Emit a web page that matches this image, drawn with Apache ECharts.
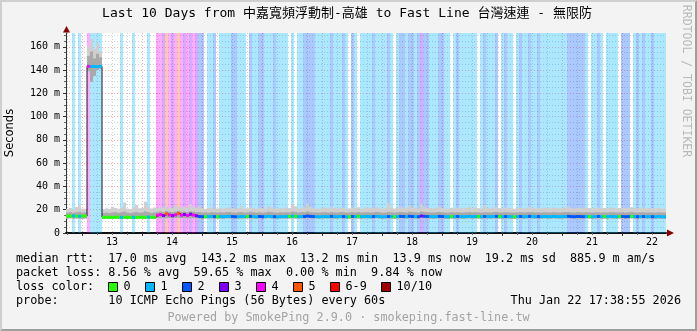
<!DOCTYPE html>
<html><head><meta charset="utf-8">
<script src="https://cdn.jsdelivr.net/npm/echarts@6/dist/echarts.min.js"></script>
<style>html,body{margin:0;padding:0;background:#f3f3f3}#c{width:697px;height:331px}</style>
</head><body><div id="c"></div>
<script>
// ---- time frame ----
const startTime = Date.UTC(2026, 0, 12, 17, 36);   // left edge of the plot
const bucketMinutes = 72;                            // one sample column = 72 min
const dayLabels = ['13','14','15','16','17','18','19','20','21','22'];
const yMax = 171.84;
const yMajorTicks = [0,20,40,60,80,100,120,140,160];
const yMinorTicks = [5,10,15,25,30,35,45,50,55,65,70,75,85,90,95,105,110,115,125,130,135,145,150,155,165,170];
const yTickLabels = ['0','20 m','40 m','60 m','80 m','100 m','120 m','140 m','160 m'];

// ---- loss legend ----
const lossLabels = ['0','1','2','3','4','5','6-9','10/10'];
const lossColors = ['#26ff00','#00b8ff','#0059ff','#7e00ff','#ff00ff','#ff5500','#ff0000','#a10000'];

// ---- packet loss level per column (index into lossLabels) ----
const loss = [
 0,0,1,0,1,0,0,4,1,1,
 1,1,0,0,0,0,0,0,1,0,
 0,0,1,0,0,0,0,1,0,0,
 4,4,3,5,4,3,4,5,4,3,
 4,3,4,3,2,2,0,1,1,2,
 0,1,1,1,1,2,2,1,1,1,
 0,2,1,1,2,2,1,1,1,2,
 1,1,1,1,0,1,0,1,1,2,
 2,2,2,1,1,1,1,1,2,1,
 1,1,2,1,0,2,1,0,1,1,
 1,1,2,1,1,1,1,2,1,0,
 1,2,2,1,2,2,1,2,3,2,
 2,1,1,1,2,2,1,1,0,1,
 2,1,1,1,1,1,1,0,1,2,
 1,1,1,2,0,1,2,1,1,0,
 1,2,1,1,2,1,1,2,1,1,
 1,1,1,1,1,1,1,2,2,2,
 2,2,2,1,0,1,1,2,1,0,
 1,1,1,1,0,2,2,2,0,1,
 2,1,2,1,1,2,1,1,1,1
];

// ---- median rtt (ms) per column ----
const median = [
 14.6,14.4,14.7,14.5,14.3,14.6,14.5,143.2,143.0,143.1,
 142.9,143.2,13.4,13.6,13.5,13.3,13.5,13.7,13.4,13.5,
 13.6,13.3,13.5,13.4,13.6,13.5,13.4,13.7,13.5,13.6,
 15.2,15.8,15.0,16.4,15.5,14.9,15.6,16.8,15.3,15.9,
 15.1,16.2,15.4,14.8,14.2,14.0,13.9,14.1,14.3,14.0,
 13.9,14.1,14.0,14.2,14.4,14.1,13.9,14.0,14.2,14.1,
 14.0,14.3,14.1,13.9,14.2,14.0,14.1,14.4,14.2,14.0,
 13.8,14.1,14.0,14.2,14.1,14.5,14.3,14.0,14.1,14.2,
 14.6,14.3,14.1,14.0,13.9,14.1,14.2,14.0,14.3,14.1,
 14.0,14.2,14.1,13.9,14.0,14.2,14.1,14.3,14.0,14.1,
 14.2,14.0,14.1,14.3,14.1,13.9,14.0,14.2,14.1,14.0,
 14.1,14.3,14.2,14.0,14.4,14.2,14.1,14.0,14.6,14.3,
 14.2,14.1,14.0,14.1,14.3,14.2,14.0,13.9,14.1,14.0,
 14.2,14.1,14.0,14.1,14.3,14.0,14.2,14.1,14.0,14.2,
 14.1,14.0,14.2,14.3,14.1,14.0,14.2,14.1,14.0,13.9,
 14.1,14.2,14.0,14.1,14.3,14.2,14.0,14.1,14.0,14.2,
 14.1,14.0,14.2,14.1,14.0,14.1,14.2,14.3,14.1,14.0,
 14.2,14.1,14.0,14.2,14.1,14.0,14.1,14.2,14.0,14.1,
 14.0,14.2,14.1,14.0,14.1,14.2,14.0,14.1,14.3,14.1,
 14.0,14.1,14.2,14.0,14.1,14.0,13.9,14.1,14.0,13.9
];

// ---- smoke: lowest ping, inner band top, highest ping (ms) ----
const smokeMin = [
 12.4,12.6,12.3,12.5,12.4,12.2,12.5,139,130,135,
 140,141,12.1,12.3,12.0,12.2,12.4,12.1,12.3,12.2,
 12.0,12.3,12.1,12.2,12.4,12.1,12.0,12.3,12.2,12.1,
 12.8,12.6,13.0,12.7,12.9,12.6,12.8,13.1,12.7,12.9,
 12.6,12.8,12.7,12.6,12.5,12.4,12.6,12.5,12.3,12.6,
 12.4,12.5,12.3,12.6,12.4,12.5,12.7,12.4,12.3,12.5,
 12.6,12.4,12.5,12.3,12.6,12.4,12.5,12.7,12.4,12.3,
 12.5,12.4,12.6,12.3,12.5,12.7,12.4,12.5,12.6,12.4,
 12.8,12.5,12.4,12.6,12.3,12.5,12.4,12.6,12.5,12.3,
 12.4,12.6,12.5,12.3,12.4,12.6,12.5,12.4,12.3,12.5,
 12.6,12.4,12.5,12.7,12.4,12.3,12.5,12.6,12.4,12.3,
 12.5,12.6,12.4,12.3,12.7,12.5,12.4,12.3,12.8,12.6,
 12.5,12.4,12.3,12.5,12.6,12.4,12.3,12.2,12.4,12.3,
 12.5,12.4,12.3,12.4,12.6,12.3,12.5,12.4,12.3,12.5,
 12.4,12.3,12.5,12.6,12.4,12.3,12.5,12.4,12.3,12.2,
 12.4,12.5,12.3,12.4,12.6,12.5,12.3,12.4,12.3,12.5,
 12.4,12.3,12.5,12.4,12.3,12.4,12.5,12.6,12.4,12.3,
 12.5,12.4,12.3,12.5,12.4,12.3,12.4,12.5,12.3,12.4,
 12.3,12.5,12.4,12.3,12.4,12.5,12.3,12.4,12.6,12.4,
 12.3,12.4,12.5,12.3,12.4,12.3,12.2,12.4,12.3,12.2
];
const smokeMid = [
 17.6,17.9,17.4,17.8,18.2,17.5,17.7,152,156,150,
 154,151,17.2,17.5,17.1,17.6,17.9,17.3,17.8,18.4,
 17.5,17.2,17.6,18.0,17.4,17.7,18.6,17.9,17.3,17.6,
 18.2,18.5,18.0,18.8,18.3,17.9,18.4,19.0,18.2,18.6,
 18.1,18.7,18.3,17.9,18.0,17.6,17.8,17.5,17.9,17.7,
 17.6,17.8,17.5,17.9,18.1,17.7,17.5,17.8,18.0,17.6,
 17.7,18.2,17.9,17.6,17.8,17.5,17.7,18.3,17.9,17.6,
 17.5,17.8,17.6,17.9,17.7,18.4,18.1,17.6,17.8,17.9,
 18.5,18.0,17.7,17.6,17.5,17.8,17.9,17.6,18.1,17.7,
 17.6,17.9,17.8,17.5,17.6,17.9,17.7,18.0,17.6,17.8,
 17.9,17.6,17.7,18.1,17.8,17.5,17.6,18.2,17.8,17.6,
 17.8,18.1,17.9,17.6,18.3,18.0,17.8,17.6,18.5,18.0,
 17.9,17.7,17.6,17.8,18.1,17.9,17.6,17.5,17.8,17.6,
 17.9,17.7,17.6,17.8,18.0,17.6,17.9,17.7,17.6,17.9,
 17.8,17.6,17.9,18.1,17.7,17.6,17.9,17.8,17.6,17.5,
 17.7,17.9,17.6,17.8,18.0,17.9,17.6,17.7,17.6,17.9,
 17.8,17.6,17.9,17.7,17.6,17.8,17.9,18.0,17.7,17.6,
 17.9,17.8,17.6,17.9,17.7,17.6,17.8,17.9,17.6,17.7,
 17.6,17.9,17.8,17.6,17.7,17.9,17.6,17.8,18.1,17.7,
 17.6,17.8,17.9,17.6,17.7,17.6,17.5,17.8,17.6,17.5
];
const smokeMax = [
 20.8,21.5,20.6,22.4,23.8,21.0,20.9,160,167,158,
 163,156,20.4,21.2,20.8,22.6,21.5,20.9,21.8,26.2,
 21.0,20.7,22.1,24.0,21.3,21.6,27.0,22.8,21.1,21.9,
 21.5,22.2,21.8,22.9,21.4,21.7,23.6,22.4,21.9,22.5,
 22.0,24.8,22.6,21.8,23.0,21.4,20.9,21.3,22.0,20.8,
 21.1,21.6,20.9,21.4,22.3,21.2,20.8,21.5,23.4,21.0,
 21.3,22.0,21.6,20.9,21.7,21.2,21.0,23.2,21.8,21.1,
 20.9,21.5,21.3,22.0,21.4,24.5,23.0,21.2,21.6,21.9,
 25.0,22.3,21.4,21.1,20.8,21.6,22.0,21.3,22.4,21.5,
 21.0,21.8,21.6,20.9,21.2,21.9,21.4,22.1,21.0,21.7,
 22.0,21.3,21.5,22.6,21.7,20.9,21.2,25.8,21.9,21.1,
 21.6,22.4,21.8,21.2,23.6,22.1,21.7,21.0,25.2,22.3,
 21.8,21.4,21.1,21.9,22.5,21.6,21.0,20.8,21.7,21.2,
 21.9,21.5,21.2,21.6,22.8,21.1,21.8,21.4,21.0,23.9,
 21.7,21.2,21.9,22.3,21.4,21.1,21.8,21.5,21.2,20.9,
 21.4,21.9,21.1,21.6,22.4,21.8,21.2,21.4,21.1,21.8,
 21.6,21.2,21.9,21.5,21.1,21.6,21.9,22.6,21.5,21.2,
 21.8,21.6,21.1,21.9,21.5,21.2,21.6,21.9,21.3,21.5,
 21.2,21.8,21.6,21.2,21.5,21.9,21.3,21.6,22.2,21.5,
 21.1,21.6,21.9,21.2,21.5,21.3,21.0,21.6,21.2,20.9
];

// ---- texts ----
const titleText = 'Last 10 Days from 中嘉寬頻浮動制-高雄 to Fast Line 台灣速連 - 無限防';
const statsRtt = ['17.0 ms avg','143.2 ms max','13.2 ms min','13.9 ms now','19.2 ms sd','885.9 m am/s'];
const statsLoss = ['8.56 % avg','59.65 % max','0.00 % min','9.84 % now'];
const probeText = '10 ICMP Echo Pings (56 Bytes) every 60s';
const dateText = 'Thu Jan 22 17:38:55 2026';
const poweredText = 'Powered by SmokePing 2.9.0 · smokeping.fast-line.tw';

// ---- derived helpers ----
const HOUR = 3600000;
const t = i => startTime + i * bucketMinutes * 60000;
const endTime = t(loss.length);
const midnights = dayLabels.map(d => Date.UTC(2026, 0, Number(d)));
const noons = midnights.map(m => m + 12 * HOUR);
const sixHours = [];
for (let m = Date.UTC(2026, 0, 12, 18); m < endTime; m += 6 * HOUR) {
  if (midnights.indexOf(m) < 0) sixHours.push(m);
}
function withAlpha(hex, a) {
  const n = parseInt(hex.slice(1), 16);
  return 'rgba(' + (n >> 16) + ',' + ((n >> 8) & 255) + ',' + (n & 255) + ',' + a + ')';
}
const MONO = '"DejaVu Sans Mono", "Noto Sans CJK TC", monospace';
const LEGEND_FONT = '11.8px ' + MONO;
const majorGrid = {color: 'rgba(255,0,0,0.33)', type: [1, 2], width: 1};
const minorGrid = {color: 'rgba(120,120,120,0.35)', type: [1, 2], width: 1};

const chart = echarts.init(document.getElementById('c'), null, {renderer: 'canvas', width: 697, height: 331});

function txt(text, x, y, opts) {
  opts = opts || {};
  return {type: 'text', x: x, y: y, rotation: opts.rotation || 0, z: 100, silent: true,
    style: {text: text, x: 0, y: 0, fill: opts.fill || '#000', font: opts.font || LEGEND_FONT,
      align: opts.align || 'left', verticalAlign: 'middle'}};
}

const graphics = [];
// frame (rrdtool style shading)
graphics.push({type: 'polygon', silent: true, z: 100, shape: {points: [[0,0],[697,0],[695,2],[2,2],[2,329],[0,331]]}, style: {fill: '#cfcfcf'}});
graphics.push({type: 'polygon', silent: true, z: 100, shape: {points: [[697,0],[697,331],[0,331],[2,329],[695,329],[695,2]]}, style: {fill: '#9e9e9e'}});
// title & side texts
graphics.push(txt(titleText, 347, 14, {font: '13px ' + MONO, align: 'center'}));
graphics.push(txt('RRDTOOL / TOBI OETIKER', 686, 81, {font: '11.5px ' + MONO, align: 'center', fill: '#b9b9b9', rotation: -Math.PI / 2}));
graphics.push(txt('Seconds', 10.5, 133, {font: '11.5px "DejaVu Sans", sans-serif', align: 'center', rotation: Math.PI / 2}));
// axis arrows
graphics.push({type: 'polygon', silent: true, z: 100, shape: {points: [[66.5,26],[63,32.5],[70,32.5]]}, style: {fill: '#8b0000'}});
graphics.push({type: 'polygon', silent: true, z: 100, shape: {points: [[674,233],[667,229.5],[667,236.5]]}, style: {fill: '#8b0000'}});
// legend rows
graphics.push(txt('median rtt:  ' + statsRtt.join('  '), 16, 259));
graphics.push(txt('packet loss: ' + statsLoss.join('  '), 16, 273));
graphics.push(txt('loss color:', 16, 287));
const boxX = [108, 145, 182, 219, 256, 293, 330, 381];
lossLabels.forEach((l, i) => {
  graphics.push({type: 'rect', silent: true, z: 100, shape: {x: boxX[i] + 0.5, y: 282.5, width: 9, height: 9},
    style: {fill: lossColors[i], stroke: '#000', lineWidth: 1}});
  graphics.push(txt(l, boxX[i] + 15.5, 287));
});
graphics.push(txt('probe:       ' + probeText, 16, 301));
graphics.push(txt(dateText, 681, 301, {align: 'right'}));
graphics.push(txt(poweredText, 348.5, 318, {align: 'center', fill: '#a3a3a3'}));

const option = {
  animation: false,
  backgroundColor: '#f3f3f3',
  grid: {left: 66, top: 33, width: 600, height: 200, show: true, backgroundColor: '#ffffff', borderWidth: 0,
    containLabel: false, outerBoundsMode: 'none'},
  xAxis: [
    {type: 'value', min: startTime, max: endTime, position: 'bottom',
      axisLine: {show: true, onZero: false, lineStyle: {color: '#111', width: 2}},
      axisTick: {show: true, customValues: midnights, length: 3, lineStyle: {color: '#333'}},
      axisLabel: {show: true, customValues: noons, margin: 4, color: '#000', fontFamily: MONO, fontSize: 10,
        formatter: v => dayLabels[noons.indexOf(v)] || ''},
      splitLine: {show: true, lineStyle: majorGrid}},
    {type: 'value', min: startTime, max: endTime, position: 'bottom',
      axisLine: {show: false, onZero: false},
      axisTick: {show: true, customValues: sixHours, length: 2, lineStyle: {color: '#666'}},
      axisLabel: {show: false},
      splitLine: {show: true, lineStyle: minorGrid}}
  ],
  yAxis: [
    {type: 'value', min: 0, max: yMax, position: 'left',
      axisLine: {show: true, onZero: false, lineStyle: {color: '#333', width: 1}},
      axisTick: {show: true, customValues: yMajorTicks, length: 3, lineStyle: {color: '#333'}},
      axisLabel: {show: true, customValues: yMajorTicks, margin: 6, color: '#000', fontFamily: MONO, fontSize: 10,
        formatter: v => yTickLabels[yMajorTicks.indexOf(v)] || ''},
      splitLine: {show: true, lineStyle: majorGrid}},
    {type: 'value', min: 0, max: yMax, position: 'left',
      axisLine: {show: false, onZero: false},
      axisTick: {show: true, customValues: yMinorTicks, length: 2, lineStyle: {color: '#666'}},
      axisLabel: {show: false},
      splitLine: {show: true, lineStyle: minorGrid}}
  ],
  series: [
    {type: 'custom', name: 'loss', z: 1, silent: true,
      data: loss.map((l, i) => [t(i), t(i + 1), l]),
      encode: {x: [0, 1], y: 2},
      renderItem: (p, api) => {
        const lv = api.value(2);
        if (!lv) return null;
        const a = api.coord([api.value(0), yMax]);
        const b = api.coord([api.value(1), 0]);
        return {type: 'rect', shape: {x: a[0], y: a[1], width: b[0] - a[0], height: b[1] - a[1]},
          style: {fill: withAlpha(lossColors[lv], 0.33)}};
      }},
    {type: 'custom', name: 'smoke', z: 2, silent: true,
      data: smokeMin.map((v, i) => [t(i), t(i + 1), v, smokeMid[i], smokeMax[i]]),
      encode: {x: [0, 1], y: [2, 3, 4]},
      renderItem: (p, api) => {
        const x0 = api.coord([api.value(0), 0])[0];
        const x1 = api.coord([api.value(1), 0])[0];
        const yLo = api.coord([api.value(0), api.value(2)])[1];
        const yMd = api.coord([api.value(0), api.value(3)])[1];
        const yHi = api.coord([api.value(0), api.value(4)])[1];
        return {type: 'group', children: [
          {type: 'rect', shape: {x: x0, y: yHi, width: x1 - x0, height: yLo - yHi}, style: {fill: '#cfcfcf'}},
          {type: 'rect', shape: {x: x0, y: yMd, width: x1 - x0, height: yLo - yMd}, style: {fill: '#a9a9a9'}}
        ]};
      }},
    {type: 'line', name: 'median', z: 3, silent: true, step: 'end', symbol: 'none',
      data: median.map((v, i) => [t(i), v]).concat([[endTime, median[median.length - 1]]]),
      lineStyle: {color: '#1a1a1a', width: 1}},
    {type: 'custom', name: 'medianLoss', z: 4, silent: true,
      data: median.map((v, i) => [t(i), t(i + 1), v, loss[i]]),
      encode: {x: [0, 1], y: 2},
      renderItem: (p, api) => {
        const a = api.coord([api.value(0), api.value(2)]);
        const b = api.coord([api.value(1), api.value(2)]);
        return {type: 'rect', shape: {x: a[0], y: a[1] - 1.5, width: b[0] - a[0], height: 3},
          style: {fill: lossColors[api.value(3)]}};
      }}
  ],
  graphic: graphics
};
chart.setOption(option);
</script>
</body></html>
